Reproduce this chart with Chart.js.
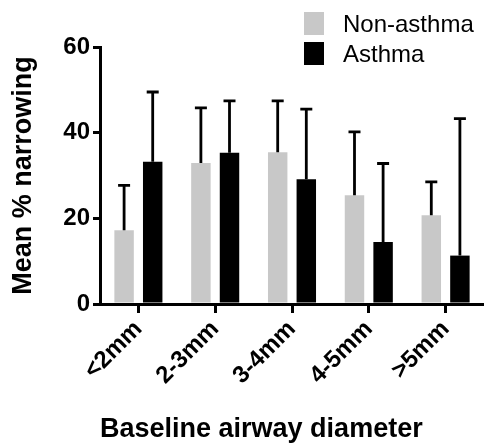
<!DOCTYPE html>
<html>
<head>
<meta charset="utf-8">
<script src="https://cdn.jsdelivr.net/npm/chart.js@4/dist/chart.umd.min.js"></script>
<style>
  html, body { margin:0; padding:0; background:#fff; }
  #wrap { width:484px; height:444px; }
</style>
</head>
<body>
<div id="wrap"><canvas id="c" width="484" height="444"></canvas></div>
<script>
// categories + series (mean, SD)
const categories   = ['<2mm', '2-3mm', '3-4mm', '4-5mm', '>5mm'];
const nonAsthma    = [17.2, 32.9, 35.4, 25.4, 20.7];
const nonAsthmaErr = [10.5, 12.9, 12.0, 14.8, 7.8];
const asthma       = [33.2, 35.3, 29.1, 14.5, 11.3];
const asthmaErr    = [16.3, 12.1, 16.4, 18.3, 32.0];
const yTicks       = [0, 20, 40, 60];

const FONT = '"Liberation Sans", Arial, Helvetica, sans-serif';

// upper error bars, positions from the y scale
const errorBars = {
  id: 'errorBars',
  afterDatasetsDraw(chart){
    const { ctx } = chart;
    const y = chart.scales.y;
    chart.data.datasets.forEach((ds, i) => {
      const meta = chart.getDatasetMeta(i);
      meta.data.forEach((bar, j) => {
        const v = ds.data[j], e = ds.errors[j];
        const y0 = y.getPixelForValue(v);
        const y1 = y.getPixelForValue(v + e);
        ctx.save();
        ctx.strokeStyle = '#000';
        ctx.lineWidth = 2.8;
        ctx.beginPath();
        ctx.moveTo(bar.x, y0);
        ctx.lineTo(bar.x, y1);
        ctx.moveTo(bar.x - 6, y1);
        ctx.lineTo(bar.x + 6, y1);
        ctx.stroke();
        ctx.restore();
      });
    });
  }
};

// legend as a vertical list top-right
const sideLegend = {
  id: 'sideLegend',
  afterDraw(chart){
    const { ctx } = chart;
    chart.data.datasets.forEach((ds, i) => {
      const top = 12 + i * 30;
      ctx.save();
      ctx.fillStyle = ds.backgroundColor;
      ctx.fillRect(304, top, 20, 23);
      ctx.fillStyle = '#000';
      ctx.font = '24px ' + FONT;
      ctx.textBaseline = 'middle';
      ctx.fillText(ds.label, 343, top + 13);
      ctx.restore();
    });
  }
};

new Chart(document.getElementById('c').getContext('2d'), {
  type: 'bar',
  data: {
    labels: categories,
    datasets: [
      { label: 'Non-asthma', data: nonAsthma, errors: nonAsthmaErr, backgroundColor: '#c8c8c8' },
      { label: 'Asthma',     data: asthma,    errors: asthmaErr,    backgroundColor: '#000000' },
    ]
  },
  options: {
    responsive: false,
    animation: false,
    devicePixelRatio: 1,
    categoryPercentage: 0.745,
    barPercentage: 0.68,
    layout: { padding: { top: 47, right: 0, bottom: 0, left: 0 } },
    plugins: { legend: { display: false }, tooltip: { enabled: false } },
    scales: {
      x: {
        grid: { display: true, drawOnChartArea: false, drawTicks: true, offset: false,
                tickLength: 9, lineWidth: 3, color: '#000' },
        border: { display: true, width: 3, color: '#000' },
        ticks: { color: '#000', font: { family: FONT, size: 24, weight: 'bold' },
                 minRotation: 45, maxRotation: 45, autoSkip: false, padding: 2 },
        title: { display: true, text: 'Baseline airway diameter', color: '#000', align: 'start',
                 font: { family: FONT, size: 27, weight: 'bold', lineHeight: 1 },
                 padding: { top: 0, bottom: 1 } },
        afterFit(s){ s.height = 140; }
      },
      y: {
        min: 0, max: 60,
        afterBuildTicks(s){ s.ticks = yTicks.map(v => ({ value: v })); },
        grid: { display: true, drawOnChartArea: false, drawTicks: true,
                tickLength: 7, lineWidth: 3, color: '#000' },
        border: { display: true, width: 3, color: '#000' },
        ticks: { color: '#000', font: { family: FONT, size: 24, weight: 'bold' }, padding: 3 },
        title: { display: true, text: 'Mean % narrowing', color: '#000',
                 font: { family: FONT, size: 27, weight: 'bold', lineHeight: 1 },
                 padding: { top: 10, bottom: 0 } },
        afterFit(s){ s.width = 100; }
      }
    }
  },
  plugins: [errorBars, sideLegend]
});
</script>
</body>
</html>
